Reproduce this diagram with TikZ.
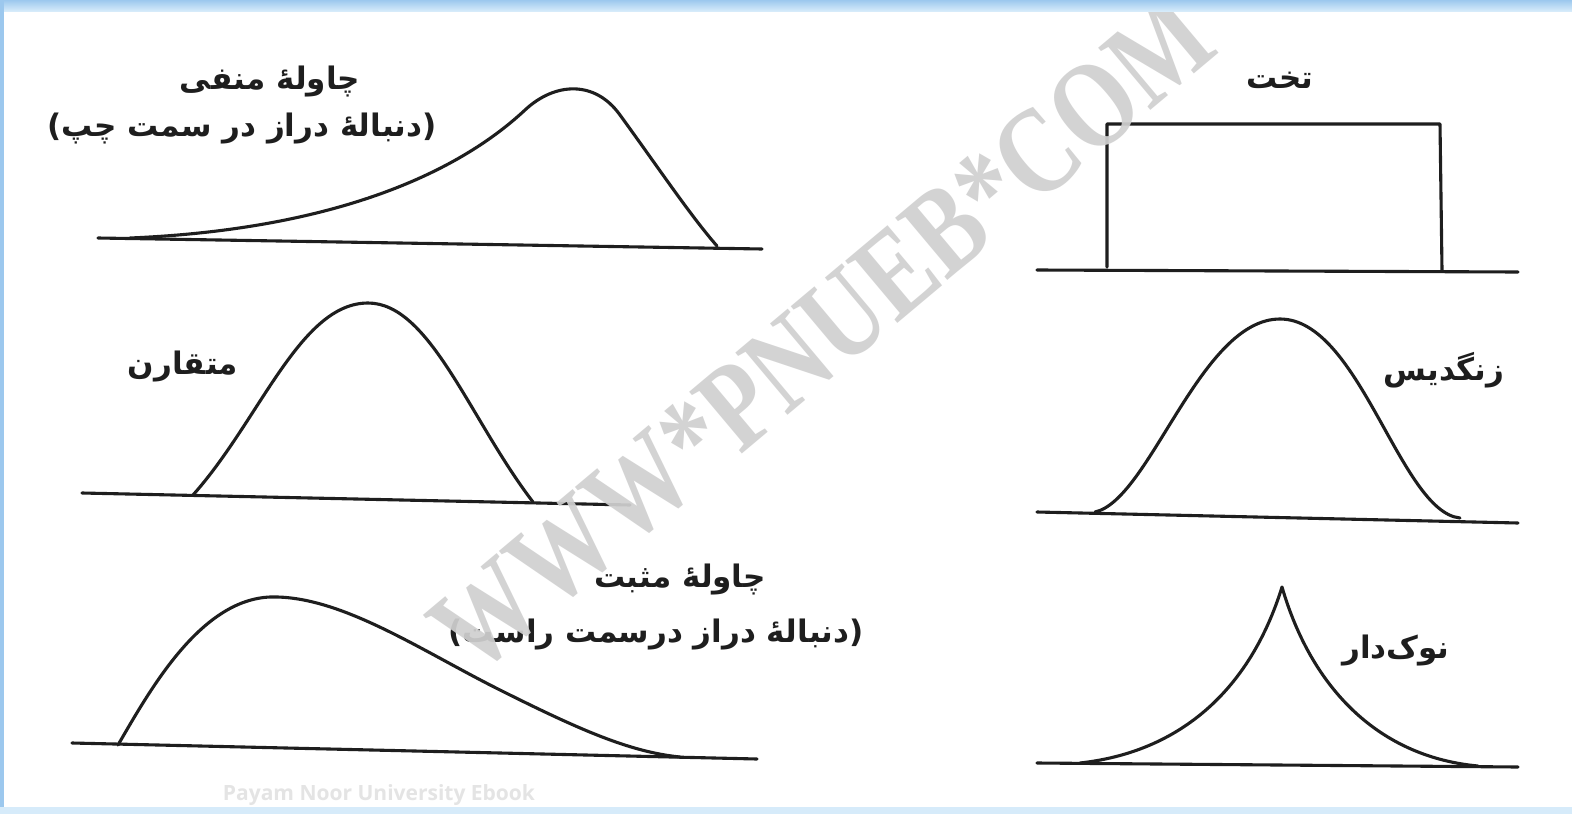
\documentclass[tikz,border=0pt]{standalone}
\usepackage{fontspec}
\TeXXeTstate=1
\newfontfamily\fa[Script=Arabic]{DejaVu Sans}
\newfontfamily\wmfont{Liberation Serif}
\newfontfamily\ebfont{Open Sans}
\definecolor{ink}{HTML}{1E1E1E}
\definecolor{wm}{HTML}{D0D0D0}
\definecolor{frameblue}{HTML}{9CC8EE}
\definecolor{framelight}{HTML}{D6EBFA}
\definecolor{ebgray}{HTML}{E4E4E4}
\tikzset{
  curve/.style={line width=3.1pt, draw=ink, line cap=round, line join=round},
  baseln/.style={line width=3.1pt, draw=ink, line cap=round},
  lbl/.style={font=\fa\bfseries\fontsize{31}{36}\selectfont, text=ink, inner sep=0pt},
}
\begin{document}
\begin{tikzpicture}[x=1pt,y=-1pt]
\useasboundingbox (0,0) rectangle (1572,814);
% background and frame
\fill[white] (0,0) rectangle (1572,814);

% ---- negative skew ----
\draw[baseln] (98,238) -- (762,249);
\draw[curve] (130,238) .. controls (320,230) and (450,180) .. (525,110)
  .. controls (555,82) and (595,80) .. (620,115)
  .. controls (660,170) and (690,215) .. (717,246);
\node[lbl] (negA) at (270,82) {\beginR چاولهٔ منفی\endR};
\node[lbl] (negB) at (242,129) {\beginR (دنبالهٔ دراز در سمت چپ)\endR};

% ---- symmetric ----
\draw[baseln] (82,493) -- (630,505);
\draw[curve] (193,495) .. controls (260,420) and (300,303) .. (368,303)
  .. controls (430,303) and (470,420) .. (533,502);
\node[lbl] (sym) at (183,367) {\beginR متقارن\endR};

% ---- positive skew ----
\draw[baseln] (72,743) -- (757,759);
\draw[curve] (118,745) .. controls (150,690) and (200,600) .. (270,597)
  .. controls (340,595) and (420,650) .. (500,690)
  .. controls (580,730) and (630,752) .. (680,757);
\node[lbl] (posA) at (680,580) {\beginR چاولهٔ مثبت\endR};
\node[lbl] (posB) at (656,634) {\beginR (دنبالهٔ دراز درسمت راست)\endR};

% ---- flat ----
\draw[baseln] (1037,270) -- (1518,272);
\draw[curve] (1107,267) -- (1107,124) -- (1440,124) -- (1442,270);
\node[lbl] (flat) at (1280,80) {\beginR تخت\endR};

% ---- bell ----
\draw[baseln] (1037,512) -- (1518,523);
\draw[curve] (1095,512) .. controls (1150,500) and (1200,319) .. (1280,319)
  .. controls (1360,319) and (1400,512) .. (1460,518);
\node[lbl] (bell) at (1444,370) {\beginR زنگدیس\endR};

% ---- peaked ----
\draw[baseln] (1037,763) -- (1518,767);
\draw[curve] (1080,763) .. controls (1180,752) and (1250,690) .. (1282,587)
  .. controls (1312,690) and (1380,757) .. (1478,766);
\node[lbl] (peak) at (1396,650) {\beginR نوک‌دار\endR};

% ---- watermarks ----
\begin{scope}
\clip (0,0) rectangle (1572,814);
\node[rotate=40, text=wm, opacity=0.92, inner sep=0pt, xscale=0.80,
      font=\wmfont\bfseries\fontsize{124}{124}\selectfont] (wmark) at (822,334) {WWW*PNUEB*COM};
\end{scope}
\node[text=ebgray, inner sep=0pt, font=\ebfont\bfseries\fontsize{21}{23}\selectfont] (eb) at (379,795) {Payam Noor University Ebook};

% frame on top
\shade[top color=frameblue, bottom color=framelight] (0,0) rectangle (1572,11);
\fill[frameblue] (0,0) rectangle (4,814);
\fill[framelight] (0,807) rectangle (1572,814);
\end{tikzpicture}
\end{document}
